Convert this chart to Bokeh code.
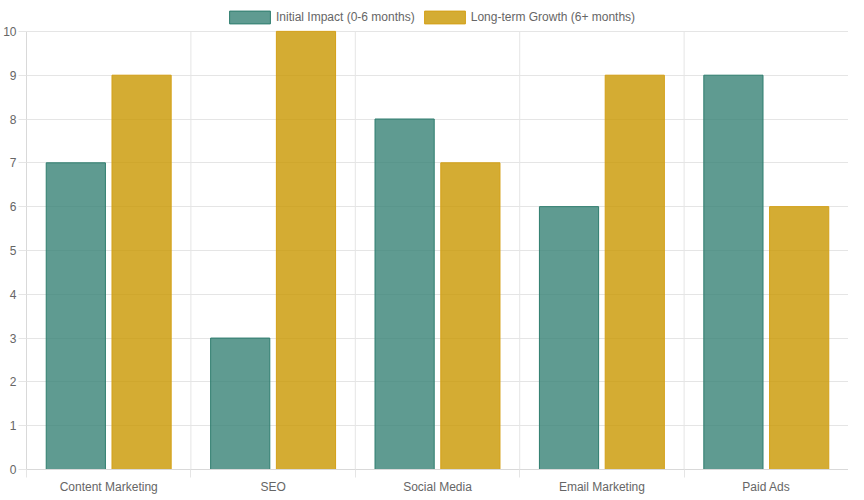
import numpy as np
from bokeh.plotting import figure
from bokeh.models import ColumnDataSource, FixedTicker, Range1d, Legend, LegendItem
from bokeh.embed import file_html
from bokeh.resources import INLINE

categories = ["Content Marketing", "SEO", "Social Media", "Email Marketing", "Paid Ads"]
initial_impact = [7, 3, 8, 6, 9]
long_term_growth = [9, 10, 7, 9, 6]
y_ticks = [0, 1, 2, 3, 4, 5, 6, 7, 8, 9, 10]
y_max = 10

FONT = "Liberation Sans"
TXT = "#666666"
GRID = "#e5e5e5"

# layout (pixels)
W, H = 848, 496
TOP, BOTTOM, LEFT = 3, 25, 19
PLOT_PX = 440            # pixel height of the 0..y_max data area
frame_h = H - TOP - BOTTOM
y_end = y_max * frame_h / PLOT_PX

n = len(categories)
idx = np.arange(n) + 0.5
bounds = np.arange(n + 1)
src = ColumnDataSource(dict(
    x1=idx - 0.2, x2=idx + 0.2, a=initial_impact, b=long_term_growth))

p = figure(width=W, height=H, output_backend="svg", toolbar_location=None,
           x_range=Range1d(0, n), y_range=Range1d(0, y_end),
           min_border_left=LEFT, min_border_right=0, min_border_top=TOP,
           min_border_bottom=BOTTOM)
p.outline_line_color = None

# vertical grid lines at category boundaries (limited to the data area)
p.segment(x0=bounds, y0=0, x1=bounds, y1=y_max, line_color=GRID, line_width=1)

r1 = p.vbar(x="x1", top="a", width=0.36, source=src,
            fill_color=(55, 130, 117), fill_alpha=0.8, line_color="#2e7d6e", line_width=1)
r2 = p.vbar(x="x2", top="b", width=0.36, source=src,
            fill_color=(201, 151, 0), fill_alpha=0.8, line_color="#d4a017", line_width=1)

# x axis
p.xaxis.ticker = FixedTicker(ticks=list(idx), minor_ticks=list(bounds))
p.xaxis.major_label_overrides = {float(v): c for v, c in zip(idx, categories)}
p.xaxis.major_tick_out = 0
p.xaxis.major_tick_in = 0
p.xaxis.minor_tick_out = 8
p.xaxis.minor_tick_in = 0
p.xaxis.minor_tick_line_color = GRID
p.xaxis.axis_line_color = "#d9d9d9"
p.xaxis.major_label_standoff = 2
p.xgrid.grid_line_color = None

# y axis
p.yaxis.ticker = FixedTicker(ticks=y_ticks)
p.yaxis.bounds = (0, y_max)
p.yaxis.major_tick_out = 8
p.yaxis.major_tick_in = 0
p.yaxis.minor_tick_line_color = None
p.yaxis.major_tick_line_color = GRID
p.yaxis.axis_line_color = "#d9d9d9"
p.yaxis.major_label_standoff = 2
p.ygrid.grid_line_color = GRID

for ax in (p.xaxis, p.yaxis):
    ax.major_label_text_font = FONT
    ax.major_label_text_font_size = "12px"
    ax.major_label_text_color = TXT

legend = Legend(items=[LegendItem(label="Initial Impact (0-6 months)", renderers=[r1]),
                       LegendItem(label="Long-term Growth (6+ months)", renderers=[r2])],
                orientation="horizontal", location=(198, PLOT_PX + 4),
                label_text_font=FONT, label_text_font_size="12px", label_text_color=TXT,
                glyph_width=51, glyph_height=16, label_standoff=1, spacing=4,
                padding=4, margin=0, border_line_color=None, background_fill_alpha=0)
p.add_layout(legend)

open("out.html", "w").write(file_html(p, INLINE))
